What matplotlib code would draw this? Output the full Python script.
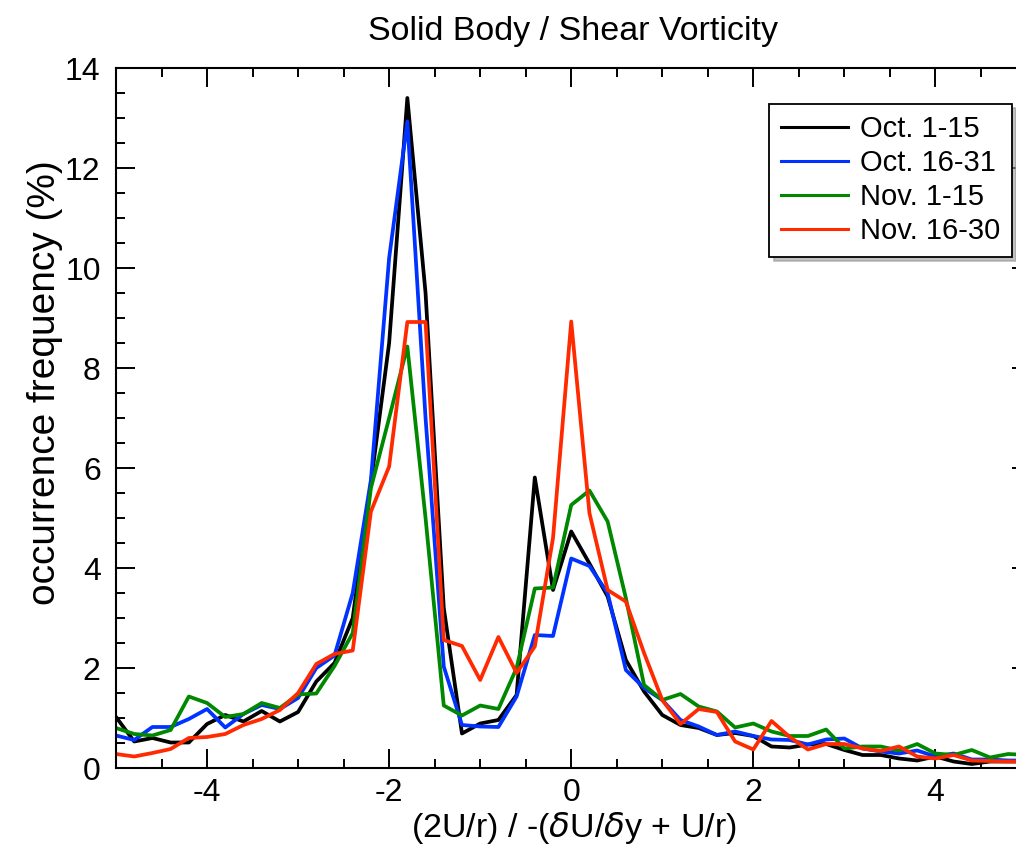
import numpy as np
import matplotlib
matplotlib.use("Agg")
from matplotlib import pyplot as plt
from matplotlib.ticker import MultipleLocator

plt.rcParams['font.family'] = ['Liberation Sans', 'DejaVu Sans']
plt.rcParams['axes.unicode_minus'] = False

# bin centres: -5.0 ... 5.0 in steps of 0.2
x = np.round(np.arange(-5.0, 5.05, 0.2), 1)

oct_1_15 = [1.02, 0.53, 0.60, 0.51, 0.51, 0.88, 1.06, 0.93, 1.14, 0.93,
            1.12, 1.73, 2.10, 3.00, 5.70, 8.50, 13.40, 9.50, 3.20, 0.69,
            0.89, 0.96, 1.46, 5.81, 3.56, 4.73, 4.09, 3.43, 2.16, 1.53,
            1.06, 0.86, 0.80, 0.66, 0.70, 0.64, 0.43, 0.41, 0.47, 0.48,
            0.36, 0.26, 0.26, 0.19, 0.15, 0.23, 0.13, 0.08, 0.13, 0.13,
            0.13]

oct_16_31 = [0.65, 0.56, 0.82, 0.82, 0.98, 1.18, 0.81, 1.08, 1.26, 1.18,
             1.40, 2.00, 2.25, 3.50, 5.76, 10.20, 12.93, 7.00, 2.03, 0.86,
             0.83, 0.82, 1.43, 2.66, 2.64, 4.19, 4.04, 3.50, 1.96, 1.60,
             1.36, 0.96, 0.83, 0.66, 0.73, 0.64, 0.57, 0.56, 0.47, 0.57,
             0.59, 0.39, 0.33, 0.29, 0.35, 0.23, 0.29, 0.17, 0.17, 0.15,
             0.15]

nov_1_15 = [0.80, 0.68, 0.65, 0.76, 1.43, 1.30, 1.02, 1.08, 1.30, 1.20,
            1.47, 1.49, 2.04, 2.70, 5.60, 7.00, 8.43, 5.00, 1.25, 1.05,
            1.25, 1.18, 2.00, 3.59, 3.61, 5.26, 5.55, 4.93, 3.40, 1.66,
            1.36, 1.48, 1.23, 1.13, 0.81, 0.89, 0.73, 0.64, 0.64, 0.77,
            0.39, 0.43, 0.43, 0.35, 0.48, 0.29, 0.26, 0.36, 0.21, 0.28,
            0.26]

nov_16_30 = [0.28, 0.23, 0.30, 0.38, 0.60, 0.62, 0.68, 0.86, 0.98, 1.16,
             1.50, 2.08, 2.28, 2.35, 5.13, 6.03, 8.92, 8.92, 2.56, 2.44,
             1.76, 2.62, 1.90, 2.43, 4.60, 8.93, 5.10, 3.56, 3.33, 2.30,
             1.36, 0.88, 1.18, 1.12, 0.53, 0.37, 0.94, 0.62, 0.37, 0.48,
             0.48, 0.39, 0.34, 0.43, 0.23, 0.19, 0.26, 0.15, 0.14, 0.13,
             0.13]

labels = ['Oct. 1-15', 'Oct. 16-31', 'Nov. 1-15', 'Nov. 16-30']
colors = ['black', '#0033ff', '#008800', '#ff2a00']

fig = plt.figure(figsize=(10.16, 8.48), dpi=100)
# right edge of the frame sits just past the edge of the image
ax = fig.add_axes([116/1016, 80/848, 915/1016, 700/848])

for y, lab, c in zip([oct_1_15, oct_16_31, nov_1_15, nov_16_30], labels, colors):
    ax.plot(x, y, color=c, lw=2.7, label=lab)

ax.set_xlim(-5, 5.05)
ax.set_ylim(0, 14)
ax.xaxis.set_major_locator(MultipleLocator(2))
ax.xaxis.set_minor_locator(MultipleLocator(0.5))
ax.yaxis.set_major_locator(MultipleLocator(2))
ax.yaxis.set_minor_locator(MultipleLocator(0.5))
ax.tick_params(which='both', direction='in', top=True, right=True,
               width=1.4, labelsize=23)
ax.tick_params(which='major', length=14)
ax.tick_params(which='minor', length=6.5)
ax.tick_params(axis='x', which='major', pad=7)
ax.tick_params(axis='y', which='major', pad=11)
for s in ax.spines.values():
    s.set_linewidth(1.5)

ax.set_xlabel(r'(2U/r) / -($\delta$U/$\delta$y + U/r)', fontsize=24.5, labelpad=2)
ax.set_ylabel('occurrence frequency (%)', fontsize=28)
ax.yaxis.set_label_coords(-0.058, 0.55)
ax.set_title('Solid Body / Shear Vorticity', fontsize=24.5, pad=20)

leg = ax.legend(loc='upper right', bbox_to_anchor=(0.979, 0.949), borderaxespad=0,
                fontsize=21, frameon=True, fancybox=False,
                shadow={'color': '0.6', 'alpha': 0.6, 'ox': 3, 'oy': -3},
                handlelength=2.3, handletextpad=0.4, labelspacing=0.2,
                borderpad=0.4)
leg.get_frame().set_edgecolor('black')
leg.get_frame().set_linewidth(1.3)
for h in leg.get_lines():
    h.set_linewidth(2.2)

fig.savefig('out.png', dpi=100)
